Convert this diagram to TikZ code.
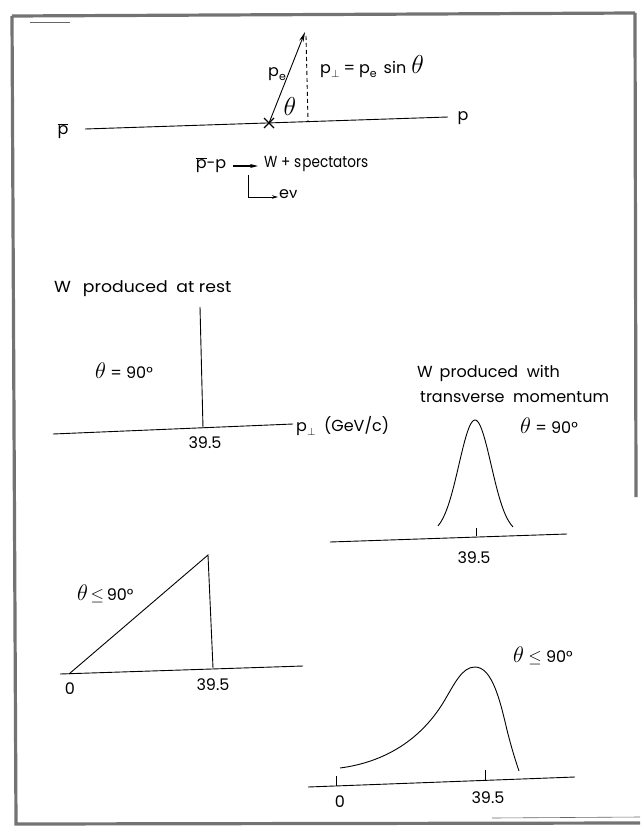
\documentclass[tikz,border=0pt]{standalone}
\usepackage{fontspec}
\usepackage{graphicx}
\setmainfont{Poppins}
\newfontfamily\grk{Lato}
\usetikzlibrary{arrows.meta}
\newcommand{\thbig}{\scalebox{1.3}{$\theta$}}
\newcommand{\thtop}{\scalebox{1.5}{$\theta$}}
\newcommand{\subsm}[1]{\raisebox{-4pt}{\fontsize{11}{11}\selectfont #1}}
\begin{document}
\begin{tikzpicture}[x=1pt,y=-1pt,
  every node/.style={inner sep=0pt, font=\fontsize{16}{18}\selectfont},
  ln/.style={line width=0.9pt},
  frame/.style={line width=3.2pt, black!55},
  lbl/.style={anchor=west},
]
\useasboundingbox (0,0) rectangle (640,827);
% frame
\coordinate (f1) at (12,16);
\coordinate (f2) at (635,13);
\coordinate (f3) at (636,497);
\coordinate (f4) at (16,824);
\coordinate (f5) at (640,823);
\draw[frame] (f1) -- (f4) -- (f5);
\draw[frame] (f1) -- (f2);
\draw[frame] (f2) -- (f3);
\coordinate (s1) at (30,22); \coordinate (s2) at (70,22);
\draw[line width=0.6pt, black!60] (s1) -- (s2);
\coordinate (s3) at (492,818); \coordinate (s4) at (640,817);
\draw[line width=0.6pt, black!60] (s3) -- (s4);

% top diagram
\node (pbar) at (63,131) {$\overline{\mbox{p}}$};
\node (p) at (463,118) {p};
\coordinate (b1) at (85,129);
\coordinate (b2) at (448,117);
\draw[ln] (b1) -- (b2);
\coordinate (v) at (269,123);
\coordinate (x1) at (264,118); \coordinate (x2) at (274,128);
\coordinate (x3) at (264,128); \coordinate (x4) at (274,118);
\draw[line width=1.1pt] (x1) -- (x2) (x3) -- (x4);
\coordinate (t) at (305,32);
\draw[ln,-{Stealth[length=10pt,width=4.5pt]}] (v) -- (t);
\coordinate (d1) at (306,36);
\coordinate (d2) at (308,121);
\draw[ln, dash pattern=on 4pt off 3pt] (d1) -- (d2);
\node (pe) at (277,74) {p\subsm{e}};
\node (th1) at (290,106) {\thtop};
\node[lbl] (form) at (320,67) {p\subsm{$\perp$}\hspace{4pt}=\hspace{4pt}p\subsm{e}\hspace{7pt}sin\hspace{5pt}\thtop};

\node (pp) at (211,165) {$\overline{\mbox{p}}$-p};
\coordinate (a1) at (233,166); \coordinate (a2) at (258,166);
\draw[line width=1.3pt,-{Stealth[length=8pt,width=4pt]}] (a1) -- (a2);
\node[lbl] (wsp) at (264,164) {\scalebox{0.85}[1]{W + s\kern1.5pt pectators}};
\coordinate (l1) at (248,175); \coordinate (l2) at (248,197); \coordinate (l3) at (278,197);
\draw[ln,-{Stealth[length=6pt,width=3.5pt]}] (l1) -- (l2) -- (l3);
\node[lbl] (ev) at (279,194) {e{\grk ν}};

% W at rest
\node[lbl] (t1) at (54,289) {\scalebox{1.08}[1]{W\hspace{11pt}produced\hspace{8pt}at rest}};
\node[lbl] (eq1) at (95,371) {\thbig\ = 90°};
\coordinate (r1) at (200,307); \coordinate (r2) at (203,428);
\draw[ln] (r1) -- (r2);
\coordinate (ax1) at (53,434); \coordinate (ax2) at (293,424);
\draw[ln] (ax1) -- (ax2);
\node[lbl] (pt) at (296,426) {p\subsm{$\perp$}\ \ (GeV/c)};
\node (n1) at (205,443) {39.5};

% W with transverse momentum
\node[lbl] (t2) at (417,373) {W\, produced\ \ with};
\node[lbl] (t3) at (420,397) {transverse\ \ momentum};
\node[lbl] (eq2) at (520,426) {\thbig\ = 90°};
\draw[ln] plot[domain=438:513, samples=80] (\x, {534-114*exp(-((\x-475)*(\x-475))/520)});
\coordinate (ax3) at (330,542); \coordinate (ax4) at (567,534);
\draw[ln] (ax3) -- (ax4);
\coordinate (k1) at (476,528); \coordinate (k2) at (476,536);
\draw[ln] (k1) -- (k2);
\node (n2) at (474,558) {39.5};

% triangle
\coordinate (g1) at (69,674); \coordinate (g2) at (208,555); \coordinate (g3) at (213,668);
\draw[ln] (g1) -- (g2) -- (g3);
\coordinate (ax5) at (60,674); \coordinate (ax6) at (303,666);
\draw[ln] (ax5) -- (ax6);
\node (z1) at (70,689) {0};
\node (n3) at (213,685) {39.5};
\node[lbl] (eq3) at (77,594) {\thbig\,$\leq$\,90°};

% skewed peak
\coordinate (c0) at (340,768);
\coordinate (c1) at (443,703);
\coordinate (c2) at (475,667);
\coordinate (c3) at (507,730);
\coordinate (c4) at (519,771);
\draw[ln] (c0) .. controls (385,762) and (420,740) .. (c1)
  .. controls (455,683) and (462,667) .. (c2)
  .. controls (492,667) and (500,700) .. (c3)
  .. controls (512,750) and (516,762) .. (c4);
\coordinate (ax7) at (308,787); \coordinate (ax8) at (575,777);
\draw[ln] (ax7) -- (ax8);
\coordinate (k3) at (336,776); \coordinate (k4) at (336,786);
\coordinate (k5) at (485,770); \coordinate (k6) at (485,780);
\draw[ln] (k3) -- (k4) (k5) -- (k6);
\node (z2) at (340,802) {0};
\node (n4) at (488,798) {39.5};
\node[lbl] (eq4) at (513,656) {\thbig\ $\leq$ 90°};
\end{tikzpicture}
\end{document}
